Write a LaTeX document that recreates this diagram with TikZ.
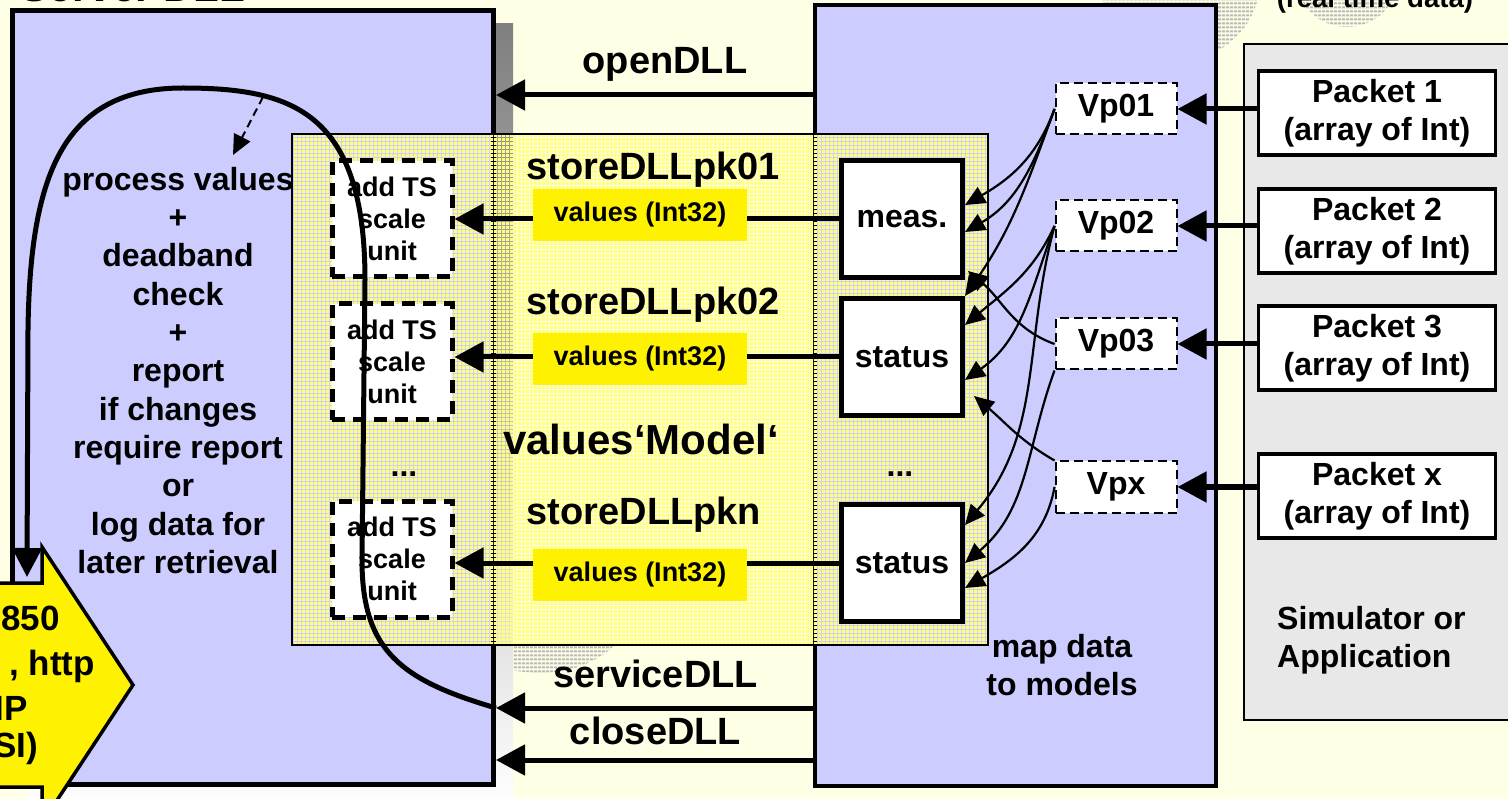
\documentclass[tikz,border=0pt]{standalone}
\usepackage{fontspec}
\setmainfont{Liberation Sans}
\usepackage{tikz}
\usetikzlibrary{arrows.meta,calc,patterns.meta}
\usepackage{xcolor}
\definecolor{bgyel}{RGB}{255,255,230}
\definecolor{lav}{RGB}{204,204,255}
\definecolor{shade}{RGB}{128,128,128}
\definecolor{simgray}{RGB}{232,232,232}
\definecolor{stripe}{RGB}{255,255,125}
\definecolor{cloud}{RGB}{185,185,185}

\begin{document}
\begin{tikzpicture}[x=1pt,y=-1pt,font=\bfseries]
  \tikzstyle{txtbig}=[font=\bfseries\fontsize{38}{44}\selectfont]
  \tikzstyle{txtmid}=[font=\bfseries\fontsize{32}{38.3}\selectfont,align=center]
  \tikzstyle{txtsml}=[font=\bfseries\fontsize{27}{32}\selectfont,align=center]
  \tikzstyle{heavy}=[line width=5pt,-{Triangle[length=29pt,width=30pt]}]
  \tikzstyle{fine}=[line width=2.2pt,-{Triangle[length=20pt,width=18pt]}]
  \tikzstyle{tsbox}=[rectangle,draw,line width=5pt,dash pattern=on 13pt off 8pt,fill=white,minimum width=120pt,minimum height=116pt,inner sep=0pt,txtsml]
  \tikzstyle{blk}=[rectangle,draw,line width=5pt,fill=white,minimum width=121pt,minimum height=117pt,inner sep=0pt,txtmid]
  \tikzstyle{val}=[rectangle,fill=yellow,minimum width=214pt,minimum height=52pt,inner sep=0pt,txtsml]
  \tikzstyle{vp}=[rectangle,draw,line width=2pt,dash pattern=on 9pt off 5pt,fill=white,minimum width=121pt,minimum height=51pt,inner sep=0pt,txtmid]
  \tikzstyle{pkt}=[rectangle,draw,line width=3.5pt,fill=white,minimum width=237pt,minimum height=84pt,inner sep=0pt,txtmid]
  \tikzstyle{lbl}=[inner sep=0pt,txtbig]
  \tikzstyle{hatch}=[pattern={Lines[angle=0,distance=4pt,line width=2.5pt]},pattern color=cloud]
  \useasboundingbox (0,0) rectangle (1508,799);
  \clip (0,0) rectangle (1508,799);
  \fill[bgyel] (0,0) rectangle (1508,799);
  % grey shapes in the background
  \fill[hatch] (1180,-20) circle[radius=80pt];
  \fill[hatch] (1347,-25) circle[radius=52pt];
  \begin{scope}
    \clip (513,645) rectangle (700,700);
    \fill[hatch] (540,600) ellipse[x radius=95pt,y radius=73pt];
  \end{scope}
  % server dll
  \fill[shade] (29,24) rectangle (513,810);
  \node(server) at (253,397.5) [rectangle,draw,line width=5pt,fill=lav,minimum width=481pt,minimum height=774pt]{};
  \node(title) at (133,2) [anchor=base,inner sep=0pt,font=\bfseries\fontsize{42}{48}\selectfont]{Server DLL};
  \node(proc) at (178,167) [anchor=north,inner sep=0pt,txtmid]{process values\\+\\deadband\\check\\+\\report\\if changes\\require report\\or\\log data for\\later retrieval};
  % caller dll and simulator
  \node(dll) at (1015.5,395.5) [rectangle,draw,line width=3.5pt,fill=lav,minimum width=401pt,minimum height=781pt]{};
  \node(sim) at (1387,382) [rectangle,draw,line width=2pt,fill=simgray,minimum width=286pt,minimum height=676pt]{};
  \node(rtd) at (1375,8) [anchor=base,inner sep=0pt,font=\bfseries\fontsize{27.6}{32}\selectfont]{(real time data)};
  \node(simtxt) at (1277,606) [anchor=north west,inner sep=0pt,txtmid,align=left]{Simulator or\\Application};
  \node(maptxt) at (1062,634) [anchor=north,inner sep=0pt,txtmid]{map data\\to models};
  % values model
  \node(model) at (640,389.5) [rectangle,draw,line width=1.5pt,pattern={Lines[angle=0,distance=4pt,line width=3.4pt]},pattern color=stripe,minimum width=696pt,minimum height=511pt]{};
  \node(pk01) at (653,180) [anchor=base,lbl]{storeDLLpk01};
  \node(pk02) at (653,315) [anchor=base,lbl]{storeDLLpk02};
  \node(vmodel) at (641,455) [anchor=base,inner sep=0pt,font=\bfseries\fontsize{42}{48}\selectfont]{values‘Model‘};
  \node(pkn) at (644,524) [anchor=base,lbl]{storeDLLpkn};
  \node(dots1) at (404,476) [anchor=base,inner sep=0pt,txtmid]{...};
  \node(dots2) at (900,476) [anchor=base,inner sep=0pt,txtmid]{...};
  \node(ts1) at (392,219) [tsbox]{add TS\\scale\\unit};
  \node(ts2) at (392,362) [tsbox]{add TS\\scale\\unit};
  \node(ts3) at (392,559) [tsbox]{add TS\\scale\\unit};
  \node(meas) at (902,219) [blk]{meas.};
  \node(stat2) at (902,357) [blk]{status};
  \node(stat3) at (902,563) [blk]{status};
  \draw[heavy](meas.west)--(meas.west -| ts1.east);
  \draw[heavy](stat2.west)--(stat2.west -| ts2.east);
  \draw[heavy](stat3.west)--(stat3.west -| ts3.east);
  \node(val1) at (640,215) [val]{values (Int32)};
  \node(val2) at (640,359) [val]{values (Int32)};
  \node(val3) at (640,575) [val]{values (Int32)};
  % packets
  \node(pk1) at (1377,113) [pkt]{Packet 1\\(array of Int)};
  \node(pk2) at (1377,231) [pkt]{Packet 2\\(array of Int)};
  \node(pk3) at (1377,348) [pkt]{Packet 3\\(array of Int)};
  \node(pkx) at (1377,496) [pkt]{Packet x\\(array of Int)};
  \node(vp01) at (1116,109) [vp]{Vp01};
  \node(vp02) at (1116,226) [vp]{Vp02};
  \node(vp03) at (1116,344) [vp]{Vp03};
  \node(vpx) at (1116,487) [vp]{Vpx};
  \draw[heavy](pk1.west |- vp01)--(vp01);
  \draw[heavy](pk2.west |- vp02)--(vp02);
  \draw[heavy](pk3.west |- vp03)--(vp03);
  \draw[heavy](pkx.west |- vpx)--(vpx);
  % mapping
  \draw[fine](vp01.west) to[out=250,in=30] ($(meas.east)+(0,-14)$);
  \draw[fine](vp01.west) to[out=250,in=30] ($(meas.east)+(0,13)$);
  \draw[fine](vp01.west) to[out=250,in=55] (stat2.north east);
  \draw[fine](vp02.west) to[out=245,in=40] ($(stat2.east)+(0,-32)$);
  \draw[fine](vp02.west) to[out=250,in=35] ($(stat2.east)+(0,23)$);
  \draw[fine](vp02.west) to[out=255,in=50] ($(stat3.east)+(0,-38)$);
  \draw[fine](vp03.west) to[out=160,in=-40] ($(meas.south east)+(3,-9)$);
  \draw[fine](vp03.south west) to[out=250,in=40] (stat3.east);
  \draw[fine](vpx.north west) to[out=150,in=-40] ($(stat2.south east)+(9,-22)$);
  \draw[fine](vpx.west) to[out=260,in=30] ($(stat3.east)+(0,25)$);
  % dll calls
  \coordinate(open) at (815,95);
  \coordinate(svc) at (815,708);
  \coordinate(cls) at (815,760);
  \draw[heavy](open)--node[pos=.47,above=11pt,lbl]{openDLL}(open -| server.east);
  \draw[heavy](svc)--node[midway,above=18pt,lbl]{serviceDLL}(svc -| server.east);
  \draw[heavy](cls)--node[midway,above=13pt,lbl]{closeDLL}(cls -| server.east);
  % loop inside the server
  \coordinate(loopend) at (27,577);
  \draw[line width=5pt,-{Triangle[length=29pt,width=29pt]}](svc -| server.east) .. controls (400,680) and (362,650) .. (362,560) -- (365,280) .. controls (365,110) and (290,88) .. (183,88) .. controls (60,88) and (30,180) .. (28,330) -- (loopend);
  \coordinate(chk) at (263,97);
  \coordinate(procin) at (233,155);
  \draw[line width=2pt,dash pattern=on 8pt off 5pt,-{Triangle[length=20pt,width=18pt]}](chk)--(procin);
  % protocol arrow
  \draw[line width=3.5pt,fill=yellow] (-10,583) -- (42,583) -- (42,547) -- (133,685) -- (42,823) -- (42,787) -- (-10,787) -- cycle;
  \node(iec1) at (60,630) [anchor=base east,inner sep=0pt,font=\bfseries\fontsize{35}{40}\selectfont]{850};
  \node(iec2) at (95,675) [anchor=base east,inner sep=0pt,font=\bfseries\fontsize{35}{40}\selectfont]{, http};
  \node(iec3) at (28,720) [anchor=base east,inner sep=0pt,font=\bfseries\fontsize{35}{40}\selectfont]{IP};
  \node(iec4) at (38,757) [anchor=base east,inner sep=0pt,font=\bfseries\fontsize{35}{40}\selectfont]{SI)};
\end{tikzpicture}
\end{document}
